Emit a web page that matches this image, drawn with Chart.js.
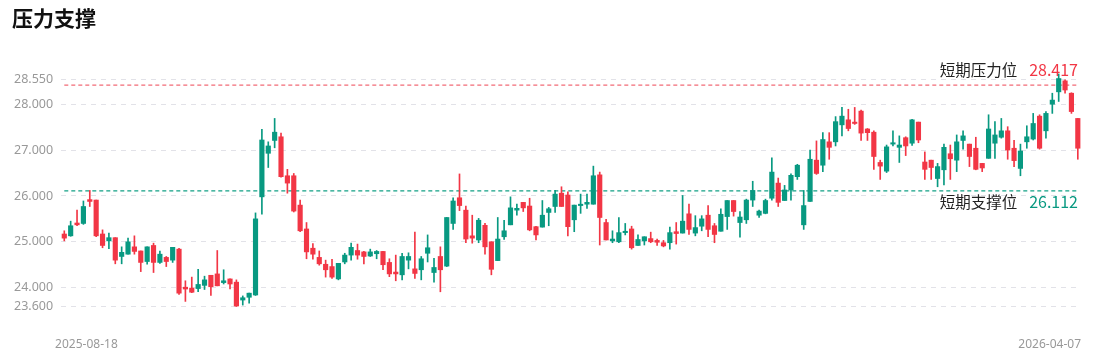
<!DOCTYPE html>
<html>
<head>
<meta charset="utf-8">
<script src="https://cdn.jsdelivr.net/npm/chart.js@4"></script>
<style>
  html, body { margin: 0; padding: 0; background: #fff; }
  #wrap { position: relative; width: 1094px; height: 361px; }
  #title { position: absolute; left: 12px; top: 2px; font: bold 21px "Noto Sans CJK SC", sans-serif; color: #111; }
  canvas { position: absolute; left: 0; top: 0; }
</style>
</head>
<body>
<div id="wrap">
  <canvas id="kline" width="1094" height="361"></canvas>
  <div id="title">压力支撑</div>
</div>
<script>
const xTickLabels = ['2025-08-18', '2026-04-07'];
const yTickValues = [23.6, 24, 25, 26, 27, 28, 28.55];

const opens = [
  25.17, 25.13, 25.41, 25.40, 25.92, 25.91, 25.17, 25.02, 25.09, 24.68, 24.73, 24.89, 24.80, 24.57, 24.92, 24.55,
  24.66, 24.60, 24.84, 24.01, 23.99, 23.98, 24.05, 24.27, 24.30, 24.11, 24.19, 24.12, 23.73, 23.79, 23.84, 25.98,
  26.93, 27.21, 27.29, 26.44, 26.44, 25.80, 25.28, 24.86, 24.66, 24.51, 24.46, 24.19, 24.56, 24.71, 24.81, 24.78,
  24.69, 24.74, 24.79, 24.55, 24.34, 24.28, 24.60, 24.41, 24.39, 24.75, 24.33, 24.68, 24.47, 25.40, 25.96, 25.69,
  25.13, 25.04, 25.36, 25.00, 24.59, 25.11, 25.37, 25.69, 25.86, 25.78, 25.33, 25.32, 25.64, 25.77, 26.06, 26.02,
  25.48, 25.79, 25.82, 25.82, 26.46, 25.42, 25.02, 25.00, 25.20, 25.28, 24.92, 25.02, 25.07, 25.03, 24.98, 24.98,
  25.22, 25.19, 25.61, 25.19, 25.34, 25.58, 25.35, 25.23, 25.55, 25.90, 25.42, 25.48, 25.91, 25.58, 25.62, 25.95,
  26.28, 25.90, 26.13, 26.42, 25.37, 25.88, 26.78, 26.67, 27.18, 27.18, 27.55, 27.66, 27.61, 27.85, 27.46, 27.39,
  26.73, 26.54, 27.13, 27.06, 27.27, 27.15, 27.61, 26.74, 26.78, 26.38, 26.57, 26.92, 26.78, 27.21, 27.13, 27.04,
  26.71, 26.82, 27.15, 27.28, 27.42, 27.04, 26.60, 27.18, 27.24, 27.74, 27.42, 28.00, 28.27, 28.51, 28.24, 27.69
];
const highs = [
  25.24, 25.45, 25.69, 25.89, 26.12, 25.91, 25.26, 25.19, 25.09, 24.89, 25.08, 25.13, 24.80, 24.89, 24.97, 24.80,
  24.68, 24.88, 24.86, 24.15, 24.23, 24.40, 24.25, 24.27, 24.81, 24.39, 24.19, 24.17, 23.82, 23.88, 25.63, 27.45,
  27.18, 27.69, 27.37, 26.58, 26.49, 25.91, 25.42, 24.96, 24.80, 24.60, 24.62, 24.53, 24.75, 24.97, 24.95, 24.79,
  24.84, 24.81, 24.79, 24.63, 24.71, 24.75, 24.76, 25.21, 24.68, 25.15, 24.64, 24.89, 25.53, 25.96, 26.48, 25.78,
  25.58, 25.51, 25.40, 25.00, 25.53, 25.47, 25.98, 25.82, 25.86, 25.95, 25.34, 25.90, 25.75, 26.12, 26.20, 26.09,
  25.80, 26.04, 26.04, 26.65, 26.52, 25.49, 25.24, 25.53, 25.40, 25.34, 25.15, 25.11, 25.21, 25.06, 25.03, 25.32,
  25.42, 26.01, 25.82, 25.57, 25.57, 25.79, 25.40, 25.72, 25.90, 25.90, 25.66, 25.93, 26.32, 25.69, 25.93, 26.83,
  26.39, 26.23, 26.48, 26.69, 26.12, 27.00, 27.20, 27.38, 27.38, 27.73, 27.93, 27.89, 27.93, 27.87, 27.47, 27.42,
  26.78, 27.11, 27.42, 27.31, 27.29, 27.67, 27.61, 26.96, 26.78, 26.71, 27.13, 27.11, 27.33, 27.42, 27.13, 27.28,
  26.71, 27.77, 27.62, 27.69, 27.51, 27.21, 27.13, 27.53, 27.80, 27.77, 27.84, 28.24, 28.66, 28.53, 28.25, 27.69
];
const lows = [
  25.02, 25.12, 25.35, 25.38, 25.77, 25.11, 24.87, 24.85, 24.52, 24.52, 24.73, 24.73, 24.35, 24.51, 24.33, 24.53,
  24.46, 24.55, 23.85, 23.70, 23.89, 23.91, 23.96, 23.83, 24.04, 24.08, 23.97, 23.59, 23.62, 23.66, 23.83, 25.60,
  26.62, 27.05, 26.41, 26.06, 25.65, 25.22, 24.63, 24.62, 24.49, 24.23, 24.20, 24.17, 24.52, 24.60, 24.62, 24.52,
  24.68, 24.63, 24.39, 24.24, 24.15, 24.17, 24.41, 24.20, 24.17, 24.56, 24.12, 23.91, 24.46, 25.27, 25.68, 24.98,
  24.97, 24.98, 24.73, 24.28, 24.59, 25.05, 25.37, 25.58, 25.66, 25.24, 25.04, 25.32, 25.35, 25.64, 25.77, 25.13,
  25.22, 25.62, 25.73, 25.82, 24.93, 25.04, 24.98, 24.98, 25.15, 24.84, 24.92, 24.93, 24.98, 24.92, 24.89, 24.84,
  24.95, 25.19, 25.16, 25.13, 25.24, 25.11, 24.98, 25.23, 25.27, 25.56, 25.10, 25.40, 25.77, 25.53, 25.61, 25.91,
  25.77, 25.90, 25.91, 26.36, 25.27, 25.88, 26.47, 26.53, 26.80, 27.09, 27.31, 27.42, 27.56, 27.21, 27.21, 26.58,
  26.36, 26.51, 27.09, 26.73, 26.88, 27.10, 27.16, 26.36, 26.36, 26.20, 26.24, 26.36, 26.53, 27.02, 26.64, 26.57,
  26.53, 26.82, 26.82, 27.26, 26.80, 26.64, 26.44, 27.04, 27.22, 27.02, 27.26, 27.80, 28.06, 28.24, 27.80, 26.80
];
const closes = [
  25.08, 25.35, 25.37, 25.77, 25.88, 25.13, 24.92, 25.09, 24.60, 24.77, 25.00, 24.79, 24.55, 24.89, 24.55, 24.73,
  24.57, 24.88, 23.88, 23.97, 23.90, 24.07, 24.17, 24.02, 24.04, 24.15, 24.08, 23.60, 23.78, 23.88, 25.50, 27.22,
  27.09, 27.39, 26.42, 26.28, 25.67, 25.24, 24.78, 24.73, 24.52, 24.39, 24.23, 24.53, 24.71, 24.88, 24.71, 24.68,
  24.78, 24.79, 24.50, 24.30, 24.30, 24.68, 24.68, 24.31, 24.63, 24.87, 24.44, 24.39, 25.53, 25.89, 25.79, 25.06,
  25.08, 25.47, 24.89, 24.40, 25.06, 25.24, 25.74, 25.73, 25.74, 25.26, 25.15, 25.58, 25.72, 26.04, 25.77, 25.33,
  25.80, 25.82, 25.86, 26.44, 25.53, 25.04, 25.06, 25.20, 25.23, 24.87, 25.05, 25.11, 25.00, 24.99, 24.91, 25.20,
  25.18, 25.45, 25.27, 25.31, 25.50, 25.27, 25.16, 25.60, 25.90, 25.66, 25.54, 25.91, 26.12, 25.67, 25.90, 26.52,
  25.86, 26.13, 26.45, 26.67, 25.79, 26.80, 26.49, 27.23, 27.06, 27.62, 27.74, 27.47, 27.58, 27.37, 27.38, 26.86,
  26.65, 27.07, 27.16, 27.11, 27.09, 27.66, 27.22, 26.58, 26.62, 26.64, 27.06, 26.81, 27.18, 27.31, 26.86, 26.58,
  26.61, 27.46, 27.33, 27.42, 27.00, 26.77, 26.98, 27.29, 27.58, 27.04, 27.80, 28.09, 28.56, 28.31, 27.84, 27.04
];

const levelNames = ['短期压力位', '短期支撑位'];
const levelValues = [28.417, 26.112];

const UP = '#089981';
const DOWN = '#f23645';
const LEVEL_LINE = ['#f26b77', '#12a085'];
const LEVEL_TEXT = [DOWN, UP];

const labels = opens.map((_, i) => i);
const candleColors = opens.map((o, i) => closes[i] >= o ? UP : DOWN);

// horizontal dashed level lines, one flat line dataset each
const levelDatasets = levelValues.map((v, i) => ({
  type: 'line',
  data: labels.map(() => v),
  borderColor: LEVEL_LINE[i],
  borderWidth: 1.3,
  borderDash: [4, 3],
  pointRadius: 0,
  fill: false
}));

const levelsPlugin = {
  id: 'levels',
  afterDatasetsDraw(chart) {
    const { ctx, chartArea, scales } = chart;
    ctx.save();
    ctx.textBaseline = 'middle';
    ctx.textAlign = 'right';
    levelValues.forEach((v, i) => {
      const y = scales.y.getPixelForValue(v) + (i === 0 ? -15 : 11);
      const right = chartArea.right - 3;
      const txt = v.toFixed(3);
      ctx.font = '16px "Noto Sans CJK SC", sans-serif';
      ctx.fillStyle = LEVEL_TEXT[i];
      ctx.fillText(txt, right, y);
      const w = ctx.measureText(txt).width;
      ctx.font = '15.5px "Noto Sans CJK SC", sans-serif';
      ctx.fillStyle = '#222';
      ctx.fillText(levelNames[i], right - w - 12, y);
    });

    // date labels at both ends of the x axis
    ctx.font = '12px "Noto Sans", sans-serif';
    ctx.fillStyle = '#999';
    ctx.textAlign = 'left';
    ctx.fillText(xTickLabels[0], chartArea.left - 6, 345);
    ctx.textAlign = 'right';
    ctx.fillText(xTickLabels[1], chartArea.right, 345);
    ctx.restore();
  }
};

new Chart(document.getElementById('kline'), {
  type: 'bar',
  data: {
    labels,
    datasets: [
      {
        data: opens.map((o, i) => [o, closes[i]]),
        backgroundColor: candleColors,
        barThickness: 4.5,
        minBarLength: 1,
        grouped: false,
        clip: false
      },
      {
        data: lows.map((l, i) => [l, highs[i]]),
        backgroundColor: candleColors,
        barThickness: 1,
        grouped: false,
        clip: false
      },
      ...levelDatasets
    ]
  },
  options: {
    responsive: false,
    animation: false,
    layout: { padding: { top: 79, left: 6, right: 13, bottom: 55 } },
    plugins: { legend: { display: false }, tooltip: { enabled: false } },
    scales: {
      x: { display: false },
      y: {
        min: 23.6,
        max: 28.55,
        afterBuildTicks: (axis) => { axis.ticks = yTickValues.map(v => ({ value: v })); },
        border: { display: false, dash: [5, 5] },
        grid: { color: '#e2e2e8', lineWidth: 1, drawTicks: false },
        ticks: {
          padding: 8,
          color: '#999',
          font: { size: 12.5, family: '"Noto Sans", sans-serif' },
          callback: (v) => Number(v).toFixed(3)
        }
      }
    }
  },
  plugins: [levelsPlugin]
});
</script>
</body>
</html>
